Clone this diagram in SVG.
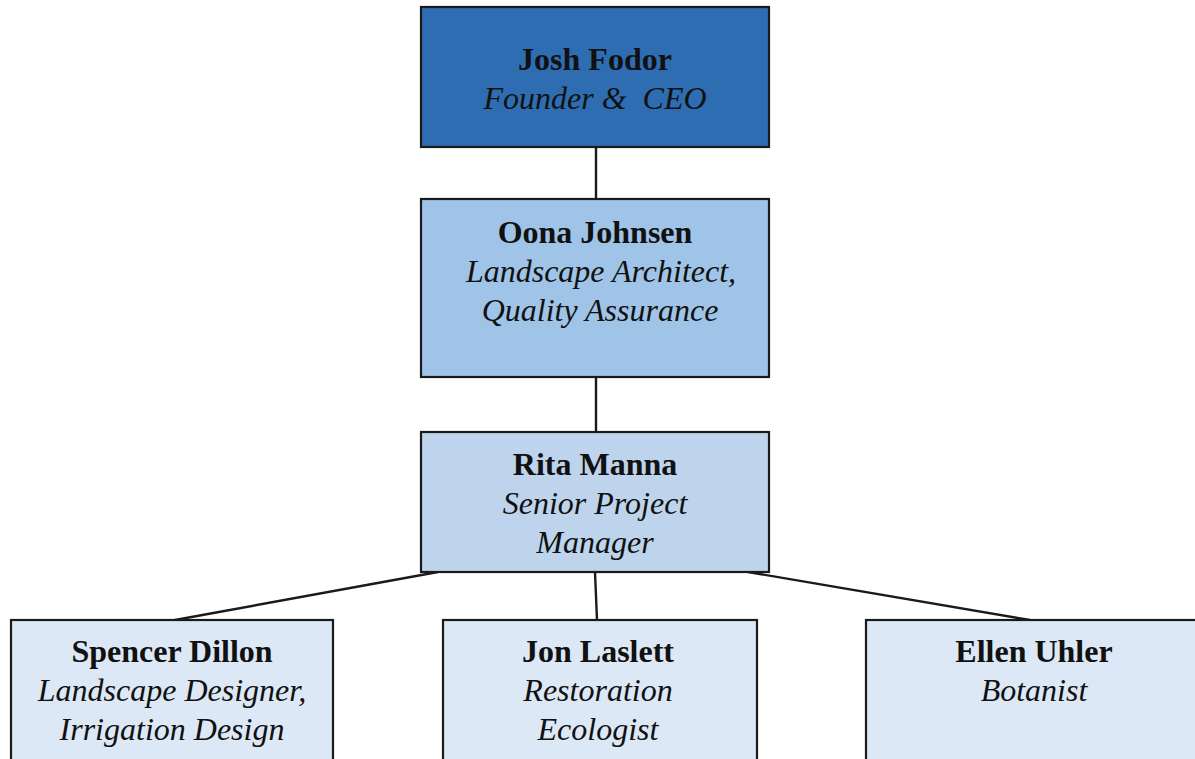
<svg xmlns="http://www.w3.org/2000/svg" width="1195" height="759" viewBox="0 0 1195 759">
<style>
.box{stroke:#1a1a1a;stroke-width:2.2}
.l0{fill:#2e6db2}.l1{fill:#9fc4e7}.l2{fill:#bdd4ec}.l3{fill:#dce8f5}
text{font-family:"Liberation Serif","Times New Roman",serif;font-size:32px;fill:#111;text-anchor:middle}
.n{font-weight:bold}
.r{font-style:italic;white-space:pre}
.c{stroke:#1a1a1a;stroke-width:2.4;fill:none}
</style>
<rect width="1195" height="759" fill="#ffffff"/>
<g id="connectors">
<line class="c" x1="596" y1="147" x2="596" y2="199"/>
<line class="c" x1="596" y1="377" x2="596" y2="432"/>
<line class="c" x1="438" y1="572" x2="175" y2="620"/>
<line class="c" x1="595" y1="572" x2="597" y2="620"/>
<line class="c" x1="748" y1="572" x2="1030" y2="620"/>
</g>
<g id="josh">
<rect class="box l0" x="421" y="7" width="348" height="140"/>
<text class="n" x="595" y="70">Josh Fodor</text>
<text class="r" x="595" y="109" xml:space="preserve">Founder &amp;  CEO</text>
</g>
<g id="oona">
<rect class="box l1" x="421" y="199" width="348" height="178"/>
<text class="n" x="595" y="243">Oona Johnsen</text>
<text class="r" x="601" y="282">Landscape Architect,</text>
<text class="r" x="600" y="321">Quality Assurance</text>
</g>
<g id="rita">
<rect class="box l2" x="421" y="432" width="348" height="140"/>
<text class="n" x="595" y="475">Rita Manna</text>
<text class="r" x="595" y="514">Senior Project</text>
<text class="r" x="595" y="553">Manager</text>
</g>
<g id="spencer">
<rect class="box l3" x="11" y="620" width="322" height="150"/>
<text class="n" x="172" y="662">Spencer Dillon</text>
<text class="r" x="172" y="701">Landscape Designer,</text>
<text class="r" x="172" y="740">Irrigation Design</text>
</g>
<g id="jon">
<rect class="box l3" x="443" y="620" width="314" height="150"/>
<text class="n" x="598" y="662">Jon Laslett</text>
<text class="r" x="598" y="701">Restoration</text>
<text class="r" x="598" y="740">Ecologist</text>
</g>
<g id="ellen">
<rect class="box l3" x="866" y="620" width="340" height="150"/>
<text class="n" x="1034" y="662">Ellen Uhler</text>
<text class="r" x="1034" y="701">Botanist</text>
</g>
</svg>
